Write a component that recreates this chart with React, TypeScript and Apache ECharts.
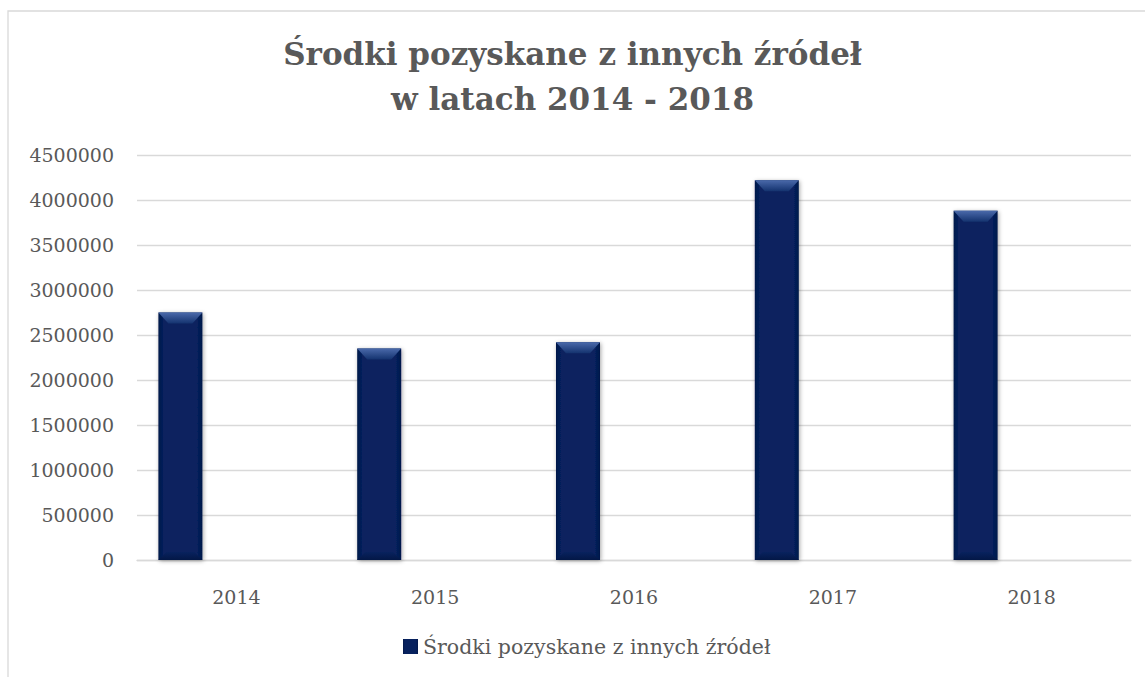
import React, { useEffect, useRef } from "react";
import * as echarts from "echarts";

const years = ["2014", "2015", "2016", "2017", "2018"];
const values = [2750000, 2350000, 2420000, 4220000, 3880000];
const seriesName = "Środki pozyskane z innych źródeł";
const titleLines = ["Środki pozyskane z innych źródeł", "w latach 2014 - 2018"];
const yMax = 4500000;
const yStep = 500000;

const BAR_W = 44;
const BAR_OFFSET = 56;
const SERIF = "'DejaVu Serif', 'Liberation Serif', serif";
const GREY = "#595959";

export default function App() {
  const ref = useRef<HTMLDivElement>(null);
  useEffect(() => {
    if (!ref.current) return;
    const chart = echarts.init(ref.current, null, { renderer: "svg" });
    const bevelTop = new echarts.graphic.LinearGradient(0, 0, 0, 1, [
      { offset: 0, color: "#4a69aa" },
      { offset: 1, color: "#14336f" },
    ]);
    const bevelBottom = new echarts.graphic.LinearGradient(0, 0, 0, 1, [
      { offset: 0, color: "#08225e" },
      { offset: 1, color: "#031746" },
    ]);
    chart.setOption({
      animation: false,
      textStyle: { fontFamily: SERIF, color: GREY },
      title: {
        text: titleLines.join("\n"),
        left: "center",
        top: 26,
        textStyle: {
          fontFamily: SERIF,
          fontWeight: "bold",
          fontSize: 31,
          lineHeight: 45,
          color: GREY,
        },
      },
      graphic: [
        {
          type: "rect",
          shape: { x: 8, y: 11, width: 1200, height: 800 },
          style: { fill: "none", stroke: "#d9d9d9", lineWidth: 1.3 },
          silent: true,
        },
      ],
      legend: {
        left: 403,
        top: 636,
        padding: 0,
        data: [seriesName],
        icon: "rect",
        itemWidth: 15,
        itemHeight: 15,
        itemGap: 4,
        textStyle: { fontFamily: SERIF, fontSize: 20.5, color: GREY },
      },
      grid: { left: 137, right: 14, top: 155, bottom: 117 },
      xAxis: {
        type: "category",
        data: years,
        axisLine: { lineStyle: { color: "#d9d9d9", width: 1.3 } },
        axisTick: { show: false },
        axisLabel: { fontFamily: SERIF, fontSize: 19, color: GREY, margin: 27 },
      },
      yAxis: {
        type: "value",
        min: 0,
        max: yMax,
        interval: yStep,
        axisLine: { show: false },
        axisTick: { show: false },
        splitLine: { lineStyle: { color: "#d9d9d9", width: 1.3 } },
        axisLabel: {
          fontFamily: SERIF,
          fontSize: 19,
          color: GREY,
          margin: 23,
          formatter: (v: number) => String(v),
        },
      },
      series: [
        {
          name: seriesName,
          type: "bar",
          data: values,
          barWidth: BAR_W,
          barGap: ((2 * BAR_OFFSET - BAR_W) / BAR_W) * 100 + "%",
          itemStyle: {
            color: new echarts.graphic.LinearGradient(0, 0, 1, 0, [
              { offset: 0, color: "#031849" },
              { offset: 0.12, color: "#07215e" },
              { offset: 0.88, color: "#07215e" },
              { offset: 1, color: "#031849" },
            ]),
            shadowBlur: 4,
            shadowColor: "rgba(0,0,0,0.35)",
            shadowOffsetX: 1,
            shadowOffsetY: 1,
          },
          z: 2,
        },
        {
          name: "pad",
          type: "bar",
          data: [],
          barWidth: BAR_W,
        },
        {
          name: "bevel",
          type: "custom",
          data: values.map((v, i) => [i, v]),
          silent: true,
          z: 3,
          renderItem: (params: any, api: any) => {
            const idx = api.value(0);
            const val = api.value(1);
            const top = api.coord([idx, val]);
            const base = api.coord([idx, 0]);
            const cx = top[0] - BAR_OFFSET;
            const x0 = cx - BAR_W / 2;
            const x1 = cx + BAR_W / 2;
            const yt = top[1];
            const yb = base[1];
            return {
              type: "group",
              children: [
                {
                  type: "polygon",
                  shape: {
                    points: [
                      [x0, yt],
                      [x1, yt],
                      [x1 - 10, yt + 11],
                      [x0 + 10, yt + 11],
                    ],
                  },
                  style: { fill: bevelTop },
                },
                {
                  type: "polygon",
                  shape: {
                    points: [
                      [x0 + 8, yb - 8],
                      [x1 - 8, yb - 8],
                      [x1, yb],
                      [x0, yb],
                    ],
                  },
                  style: { fill: bevelBottom },
                },
              ],
            };
          },
        },
      ],
    });
    return () => chart.dispose();
  }, []);
  return (
    <div
      ref={ref}
      style={{ position: "fixed", left: 0, top: 0, width: 1145, height: 677, background: "#fff" }}
    />
  );
}
